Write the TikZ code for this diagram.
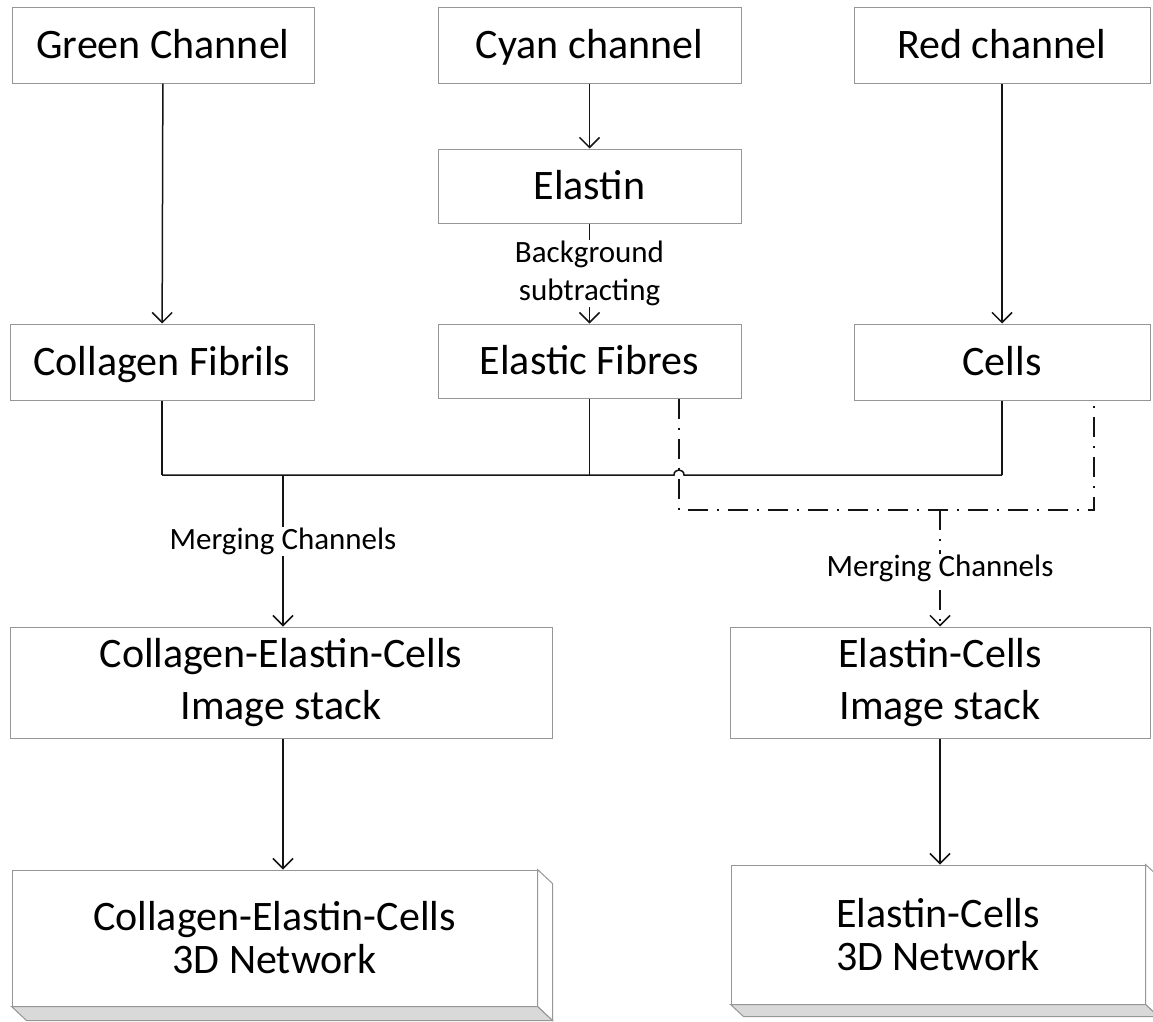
\documentclass[tikz,border=0pt]{standalone}
\usepackage{fontspec}
\setmainfont{Carlito}
\usetikzlibrary{arrows.meta,calc}
\definecolor{boxgray}{RGB}{150,150,150}
\definecolor{shadegray}{RGB}{217,217,217}
\definecolor{linecol}{RGB}{20,20,20}
\begin{document}
\begin{tikzpicture}[x=1pt,y=-1pt,
  box/.style={draw=boxgray, line width=1pt, fill=white, inner sep=0pt,
    font=\fontsize{42}{51}\selectfont, text height=27pt, text depth=0pt},
  twobox/.style={draw=boxgray, line width=1pt, fill=white, inner sep=0pt,
    align=center, font=\fontsize{42}{52}\selectfont},
  netbox/.style={draw=boxgray, line width=1pt, fill=white, inner sep=0pt,
    align=center, font=\fontsize{42}{43}\selectfont},
  conn/.style={draw=linecol, line width=1.5pt},
  arr/.style={conn, -{Straight Barb[length=10pt,width=20pt,line width=1.5pt]}},
  dd/.style={draw=linecol, line width=2pt, dash pattern=on 20pt off 9pt on 2pt off 9pt},
  ddarr/.style={dd, -{Straight Barb[length=10pt,width=20pt,line width=1.5pt]}},
  lab/.style={fill=white, inner sep=1pt, align=center, font=\fontsize{31}{38}\selectfont}
]
\useasboundingbox (0,0) rectangle (1153,1021);

% top row
\node[box, minimum width=302pt, minimum height=76pt] (green) at (163,45) {Green Channel};
\node[box, minimum width=303pt, minimum height=76pt] (cyan) at (589.5,45) {Cyan channel};
\node[box, minimum width=296pt, minimum height=76pt] (red) at (1002,45) {Red channel};
\node[box, minimum width=303pt, minimum height=74pt] (elastin) at (589.5,186) {Elastin};

% second row
\node[box, minimum width=304pt, minimum height=76pt] (collagen) at (162,362) {Collagen Fibrils};
\node[box, minimum width=303pt, minimum height=74pt] (elastic) at (589.5,361) {Elastic Fibres};
\node[box, minimum width=296pt, minimum height=76pt] (cells) at (1002,362) {Cells};

% image stacks
\node[twobox, minimum width=542pt, minimum height=111pt] (stackL) at (281,682.5) {Collagen-Elastin-Cells\\Image stack};
\node[twobox, minimum width=420pt, minimum height=111pt] (stackR) at (940,682.5) {Elastin-Cells\\Image stack};

% 3D networks: side and bottom faces
\coordinate (dL) at (15,14);
\coordinate (dR) at (13,12);
\node[netbox, minimum width=525pt, minimum height=136pt] (netL) at (274.5,938) {Collagen-Elastin-Cells\\3D Network};
\node[netbox, minimum width=414pt, minimum height=139pt] (netR) at (938,934.5) {Elastin-Cells\\3D Network};
\draw[draw=boxgray, line width=1pt, fill=white] (netL.north east) -- ($(netL.north east)+(dL)$) -- ($(netL.south east)+(dL)$) -- (netL.south east) -- cycle;
\draw[draw=boxgray, line width=1pt, fill=shadegray] (netL.south west) -- (netL.south east) -- ($(netL.south east)+(dL)$) -- ($(netL.south west)+(dL)$) -- cycle;
\draw[draw=boxgray, line width=1pt, fill=white] (netR.north east) -- ($(netR.north east)+(dR)$) -- ($(netR.south east)+(dR)$) -- (netR.south east) -- cycle;
\draw[draw=boxgray, line width=1pt, fill=shadegray] (netR.south west) -- (netR.south east) -- ($(netR.south east)+(dR)$) -- ($(netR.south west)+(dR)$) -- cycle;

% junction coordinates
\coordinate (busY) at (0,475);
\coordinate (mL) at (283,475);
\coordinate (ddY) at (0,510);
\coordinate (mR) at (940,510);
\coordinate (eX) at (679,0);
\coordinate (cX) at (1094,0);

% straight arrows
\draw[arr] (green) -- (collagen);
\draw[arr] (cyan) -- (elastin);
\draw[arr] (red) -- (cells);
\draw[arr] (elastin) -- node[lab, midway] {Background\\subtracting} (elastic);

% solid merging bus with hop
\draw[conn] (collagen.south) -- (collagen.south |- busY);
\draw[conn] (elastic.south) -- (elastic.south |- busY);
\draw[conn] (cells.south) -- (cells.south |- busY);
\draw[conn] (collagen.south |- busY) -- (674,475) .. controls (674,468.3) and (684,468.3) .. (684,475) -- (cells.south |- busY);
\draw[arr] (mL) -- node[lab, pos=0.44] {Merging Channels} (stackL.north -| mL);

% dash-dot merging
\draw[dd] (elastic.south -| eX) -- (eX |- ddY) -- (cX |- ddY) -- (cells.south -| cX);
\draw[ddarr] (mR) -- node[lab, midway] {Merging Channels} (stackR.north);

% to 3D
\draw[arr] (stackL.south -| mL) -- (netL.north -| mL);
\draw[arr] (stackR.south) -- (netR.north -| stackR.south);
\end{tikzpicture}
\end{document}
